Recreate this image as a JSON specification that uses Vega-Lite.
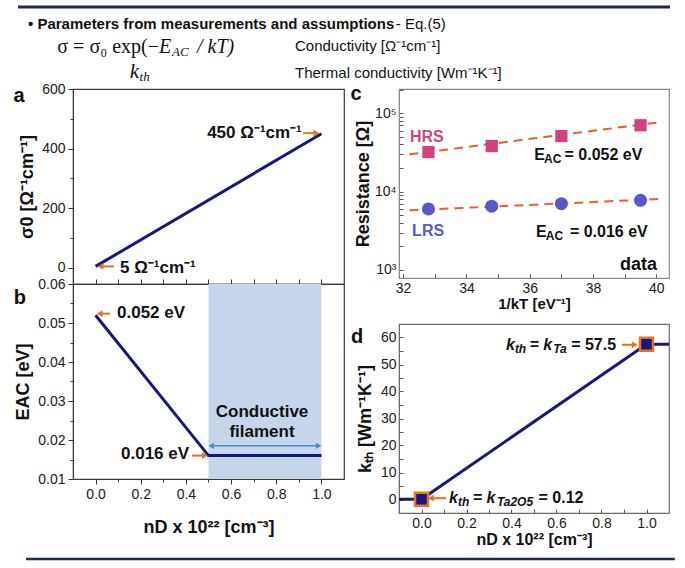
{
  "$schema": "https://vega.github.io/schema/vega-lite/v6.json",
  "background": "white",
  "padding": {"left": 12, "top": 0, "right": 5, "bottom": 0},
  "config": {
    "font": "Liberation Sans",
    "view": {"stroke": "#3a3a3a", "strokeWidth": 1.2},
    "axis": {"grid": false, "labelFontSize": 14, "labelColor": "#1a1a1a", "titleFontSize": 18, "titleFontWeight": "bold", "titleColor": "#111", "domainColor": "#3a3a3a", "tickColor": "#3a3a3a", "labelPadding": 3, "titlePadding": 5},
    "text": {"color": "#111"}
  },
  "spacing": -3,
  "vconcat": [
    {
      "width": 600, "height": 80,
      "view": {"stroke": null},
      "data": {"values": [
        {"role": "line", "x": -9.17, "x2": 99.5, "y": 8.75},
        {"role": "head", "x": -7.5, "y": 30, "text": "• Parameters from measurements and assumptions"},
        {"role": "note", "x": 53.8, "y": 30.6, "text": "- Eq.(5)"},
        {"role": "note", "x": 37, "y": 57.5, "text": "Conductivity [Ω⁻¹cm⁻¹]"},
        {"role": "note", "x": 37, "y": 91.25, "text": "Thermal conductivity [Wm⁻¹K⁻¹]"},
        {"role": "mathR", "x": 14.33, "y": 58.75, "text": "σ = σ₀ exp(−"},
        {"role": "mathI", "x": 14.33, "y": 58.75, "text": "E"},
        {"role": "mathI", "x": 20.67, "y": 58.75, "text": "/ kT)"},
        {"role": "mathIR", "x": 11, "y": 90, "text": "k"},
        {"role": "sub", "x": 16.5, "y": 65, "text": "AC"},
        {"role": "sub", "x": 11.1, "y": 96.25, "text": "th"}
      ]},
      "encoding": {
        "x": {"field": "x", "type": "quantitative", "scale": {"domain": [0, 100], "nice": false, "zero": false}, "axis": null},
        "y": {"field": "y", "type": "quantitative", "scale": {"domain": [0, 100], "nice": false, "zero": false, "reverse": true}, "axis": null}
      },
      "layer": [
        {"transform": [{"filter": "datum.role=='line'"}], "mark": {"type": "rule", "color": "#1e2b4e", "strokeWidth": 3}, "encoding": {"x2": {"field": "x2"}}},
        {"transform": [{"filter": "datum.role=='head'"}], "mark": {"type": "text", "align": "left", "baseline": "middle", "fontSize": 15, "fontWeight": "bold"}, "encoding": {"text": {"field": "text"}}},
        {"transform": [{"filter": "datum.role=='note'"}], "mark": {"type": "text", "align": "left", "baseline": "middle", "fontSize": 15}, "encoding": {"text": {"field": "text"}}},
        {"transform": [{"filter": "datum.role=='mathR'"}], "mark": {"type": "text", "align": "right", "baseline": "middle", "fontSize": 20, "font": "Liberation Serif"}, "encoding": {"text": {"field": "text"}}},
        {"transform": [{"filter": "datum.role=='mathI'"}], "mark": {"type": "text", "align": "left", "baseline": "middle", "fontSize": 20, "font": "Liberation Serif", "fontStyle": "italic"}, "encoding": {"text": {"field": "text"}}},
        {"transform": [{"filter": "datum.role=='mathIR'"}], "mark": {"type": "text", "align": "right", "baseline": "middle", "fontSize": 21, "font": "Liberation Serif", "fontStyle": "italic"}, "encoding": {"text": {"field": "text"}}},
        {"transform": [{"filter": "datum.role=='sub'"}], "mark": {"type": "text", "align": "left", "baseline": "middle", "fontSize": 13, "font": "Liberation Serif", "fontStyle": "italic"}, "encoding": {"text": {"field": "text"}}}
      ]
    },
    {
      "spacing": 4,
      "hconcat": [
        {
          "spacing": 0,
          "bounds": "flush",
          "vconcat": [
            {
              "width": 271, "height": 195,
              "data": {"values": [
                {"role": "line", "x": 0, "y": 5},
                {"role": "line", "x": 1, "y": 450},
                {"role": "arrow", "x": 0.082, "x2": 0.025, "y": 5},
                {"role": "headL", "x": 0.022, "y": 5},
                {"role": "arrow", "x": 0.918, "x2": 0.975, "y": 452},
                {"role": "headR", "x": 0.978, "y": 452},
                {"role": "textL", "x": 0.108, "y": 0, "text": "5 Ω⁻¹cm⁻¹"},
                {"role": "textR", "x": 0.913, "y": 452, "text": "450 Ω⁻¹cm⁻¹"},
                {"role": "letter", "x": -0.339, "y": 576, "text": "a"}
              ]},
              "encoding": {
                "x": {"field": "x", "type": "quantitative", "scale": {"domain": [-0.1, 1.1], "nice": false, "zero": false},
                  "axis": {"values": [0, 0.1, 0.2, 0.3, 0.4, 0.5, 0.6, 0.7, 0.8, 0.9, 1], "labels": false, "title": null, "domain": false, "tickSize": -5}},
                "y": {"field": "y", "type": "quantitative", "scale": {"domain": [-54, 600], "nice": false, "zero": false},
                  "axis": {"values": [0, 100, 200, 300, 400, 500, 600], "labelExpr": "datum.value%200==0 ? datum.label : ''",
                    "tickSize": {"condition": {"test": "datum.value%200!=0", "value": 3}, "value": 5}, "title": "σ0 [Ω⁻¹cm⁻¹]"}}
              },
              "layer": [
                {"transform": [{"filter": "datum.role=='line'"}], "mark": {"type": "line", "color": "#17177e", "strokeWidth": 3}},
                {"transform": [{"filter": "datum.role=='arrow'"}], "mark": {"type": "rule", "color": "#e8731e", "strokeWidth": 2}, "encoding": {"x2": {"field": "x2"}}},
                {"transform": [{"filter": "datum.role=='headL'"}], "mark": {"type": "point", "shape": "triangle-left", "filled": true, "color": "#e8731e", "size": 45, "opacity": 1}},
                {"transform": [{"filter": "datum.role=='headR'"}], "mark": {"type": "point", "shape": "triangle-right", "filled": true, "color": "#e8731e", "size": 45, "opacity": 1}},
                {"transform": [{"filter": "datum.role=='textL'"}], "mark": {"type": "text", "align": "left", "baseline": "middle", "fontSize": 17, "fontWeight": "bold"}, "encoding": {"text": {"field": "text"}}},
                {"transform": [{"filter": "datum.role=='textR'"}], "mark": {"type": "text", "align": "right", "baseline": "middle", "fontSize": 17, "fontWeight": "bold"}, "encoding": {"text": {"field": "text"}}},
                {"transform": [{"filter": "datum.role=='letter'"}], "mark": {"type": "text", "align": "center", "baseline": "middle", "fontSize": 20, "fontWeight": "bold"}, "encoding": {"text": {"field": "text"}}}
              ]
            },
            {
              "width": 271, "height": 195,
              "data": {"values": [
                {"role": "shade", "x": 0.5, "x2": 1.0, "y": 0.01, "y2": 0.06},
                {"role": "line", "x": 0, "y": 0.052},
                {"role": "line", "x": 0.5, "y": 0.016},
                {"role": "line", "x": 1.0, "y": 0.016},
                {"role": "dbl", "x": 0.51, "x2": 0.99, "y": 0.0185},
                {"role": "blueL", "x": 0.512, "y": 0.0185},
                {"role": "blueR", "x": 0.988, "y": 0.0185},
                {"role": "arrow", "x": 0.064, "x2": 0.02, "y": 0.0524},
                {"role": "headL", "x": 0.018, "y": 0.0524},
                {"role": "arrow", "x": 0.427, "x2": 0.48, "y": 0.016},
                {"role": "headR", "x": 0.484, "y": 0.016},
                {"role": "textL", "x": 0.095, "y": 0.0525, "text": "0.052 eV"},
                {"role": "textR", "x": 0.414, "y": 0.0164, "text": "0.016 eV"},
                {"role": "textC", "x": 0.737, "y": 0.0272, "text": "Conductive"},
                {"role": "textC", "x": 0.737, "y": 0.022, "text": "filament"},
                {"role": "letter", "x": -0.335, "y": 0.0564, "text": "b"}
              ]},
              "encoding": {
                "x": {"field": "x", "type": "quantitative", "scale": {"domain": [-0.1, 1.1], "nice": false, "zero": false},
                  "axis": {"values": [0, 0.1, 0.2, 0.3, 0.4, 0.5, 0.6, 0.7, 0.8, 0.9, 1], "labelExpr": "round(datum.value*10)%2==0 ? format(datum.value, '.1f') : ''",
                    "tickSize": {"condition": {"test": "round(datum.value*10)%2==1", "value": 3}, "value": 5}, "title": "nD x 10²² [cm⁻³]", "titlePadding": 17}},
                "y": {"field": "y", "type": "quantitative", "scale": {"domain": [0.01, 0.06], "nice": false, "zero": false},
                  "axis": {"values": [0.01, 0.015, 0.02, 0.025, 0.03, 0.035, 0.04, 0.045, 0.05, 0.055, 0.06], "labelExpr": "round(datum.value*1000)%10==0 ? format(datum.value, '.2f') : ''",
                    "tickSize": {"condition": {"test": "round(datum.value*1000)%10!=0", "value": 3}, "value": 5}, "title": "EAC [eV]"}}
              },
              "layer": [
                {"transform": [{"filter": "datum.role=='shade'"}], "mark": {"type": "rect", "color": "#c6d6ea"}, "encoding": {"x2": {"field": "x2"}, "y2": {"field": "y2"}}},
                {"transform": [{"filter": "datum.role=='line'"}], "mark": {"type": "line", "color": "#17177e", "strokeWidth": 3}},
                {"transform": [{"filter": "datum.role=='dbl'"}], "mark": {"type": "rule", "color": "#4d8bcb", "strokeWidth": 1.5}, "encoding": {"x2": {"field": "x2"}}},
                {"transform": [{"filter": "datum.role=='blueL'"}], "mark": {"type": "point", "shape": "triangle-left", "filled": true, "color": "#4d8bcb", "size": 40, "opacity": 1}},
                {"transform": [{"filter": "datum.role=='blueR'"}], "mark": {"type": "point", "shape": "triangle-right", "filled": true, "color": "#4d8bcb", "size": 40, "opacity": 1}},
                {"transform": [{"filter": "datum.role=='arrow'"}], "mark": {"type": "rule", "color": "#e8731e", "strokeWidth": 2}, "encoding": {"x2": {"field": "x2"}}},
                {"transform": [{"filter": "datum.role=='headL'"}], "mark": {"type": "point", "shape": "triangle-left", "filled": true, "color": "#e8731e", "size": 45, "opacity": 1}},
                {"transform": [{"filter": "datum.role=='headR'"}], "mark": {"type": "point", "shape": "triangle-right", "filled": true, "color": "#e8731e", "size": 45, "opacity": 1}},
                {"transform": [{"filter": "datum.role=='textL'"}], "mark": {"type": "text", "align": "left", "baseline": "middle", "fontSize": 17, "fontWeight": "bold"}, "encoding": {"text": {"field": "text"}}},
                {"transform": [{"filter": "datum.role=='textR'"}], "mark": {"type": "text", "align": "right", "baseline": "middle", "fontSize": 17, "fontWeight": "bold"}, "encoding": {"text": {"field": "text"}}},
                {"transform": [{"filter": "datum.role=='textC'"}], "mark": {"type": "text", "align": "center", "baseline": "middle", "fontSize": 17, "fontWeight": "bold"}, "encoding": {"text": {"field": "text"}}},
                {"transform": [{"filter": "datum.role=='letter'"}], "mark": {"type": "text", "align": "center", "baseline": "middle", "fontSize": 20, "fontWeight": "bold"}, "encoding": {"text": {"field": "text"}}}
              ]
            }
          ]
        },
        {
          "spacing": 46,
          "bounds": "flush",
          "vconcat": [
            {
              "width": 270, "height": 189,
              "view": {"stroke": "#8a8a8a"},
              "data": {"values": [
                {"role": "fit", "state": "HRS", "x": 32.2, "y": 29800},
                {"role": "fit", "state": "HRS", "x": 40.2, "y": 77400},
                {"role": "fit", "state": "LRS", "x": 32.2, "y": 5760},
                {"role": "fit", "state": "LRS", "x": 40.2, "y": 8060},
                {"role": "hrs", "x": 32.8, "y": 31900},
                {"role": "hrs", "x": 34.8, "y": 38000},
                {"role": "hrs", "x": 37.0, "y": 51000},
                {"role": "hrs", "x": 39.5, "y": 70000},
                {"role": "lrs", "x": 32.8, "y": 6000},
                {"role": "lrs", "x": 34.8, "y": 6500},
                {"role": "lrs", "x": 37.0, "y": 7000},
                {"role": "lrs", "x": 39.5, "y": 7740},
                {"role": "hrsLabel", "x": 32.75, "y": 49600, "text": "HRS"},
                {"role": "lrsLabel", "x": 32.79, "y": 3135, "text": "LRS"},
                {"role": "main", "x": 36.14, "y": 29200, "text": "E"},
                {"role": "sub", "x": 36.45, "y": 25980, "text": "AC"},
                {"role": "main", "x": 37.1, "y": 29200, "text": "= 0.052 eV"},
                {"role": "main", "x": 36.2, "y": 3044, "text": "E"},
                {"role": "sub", "x": 36.51, "y": 2704, "text": "AC"},
                {"role": "main", "x": 37.27, "y": 3044, "text": "= 0.016 eV"},
                {"role": "dataLabel", "x": 40.02, "y": 1155, "text": "data"},
                {"role": "letter", "x": 30.51, "y": 175300, "text": "c"}
              ]},
              "encoding": {
                "x": {"field": "x", "type": "quantitative", "scale": {"domain": [31.87, 40.4], "nice": false, "zero": false},
                  "axis": {"values": [32, 33, 34, 35, 36, 37, 38, 39, 40], "labelExpr": "datum.value%2==0 ? datum.label : ''",
                    "tickSize": -4, "labelPadding": 7, "title": "1/kT [eV⁻¹]", "titleFontSize": 15, "titlePadding": 1, "domainColor": "#8a8a8a", "tickColor": "#555"}},
                "y": {"field": "y", "type": "quantitative", "scale": {"type": "log", "domain": [790, 203000], "nice": false},
                  "axis": {"values": [1000, 2000, 3000, 4000, 5000, 6000, 7000, 8000, 9000, 10000, 20000, 30000, 40000, 50000, 60000, 70000, 80000, 90000, 100000, 200000],
                    "labelExpr": "datum.value==1000 ? '10³' : datum.value==10000 ? '10⁴' : datum.value==100000 ? '10⁵' : ''",
                    "tickSize": -4, "labelPadding": 7, "title": "Resistance [Ω]", "titlePadding": 2, "domainColor": "#8a8a8a", "tickColor": "#555"}}
              },
              "layer": [
                {"transform": [{"filter": "datum.role=='fit'"}], "mark": {"type": "line", "color": "#ef5a32", "strokeWidth": 2, "strokeDash": [9, 6]}, "encoding": {"detail": {"field": "state"}}},
                {"transform": [{"filter": "datum.role=='hrs'"}], "mark": {"type": "point", "shape": "square", "filled": true, "color": "#d2427f", "size": 150, "opacity": 1}},
                {"transform": [{"filter": "datum.role=='lrs'"}], "mark": {"type": "circle", "color": "#5858cc", "size": 170, "opacity": 1}},
                {"transform": [{"filter": "datum.role=='hrsLabel'"}], "mark": {"type": "text", "align": "center", "baseline": "middle", "fontSize": 16, "fontWeight": "bold", "color": "#d2427f"}, "encoding": {"text": {"field": "text"}}},
                {"transform": [{"filter": "datum.role=='lrsLabel'"}], "mark": {"type": "text", "align": "center", "baseline": "middle", "fontSize": 16, "fontWeight": "bold", "color": "#5858cc"}, "encoding": {"text": {"field": "text"}}},
                {"transform": [{"filter": "datum.role=='main'"}], "mark": {"type": "text", "align": "left", "baseline": "middle", "fontSize": 16, "fontWeight": "bold"}, "encoding": {"text": {"field": "text"}}},
                {"transform": [{"filter": "datum.role=='sub'"}], "mark": {"type": "text", "align": "left", "baseline": "middle", "fontSize": 12, "fontWeight": "bold"}, "encoding": {"text": {"field": "text"}}},
                {"transform": [{"filter": "datum.role=='dataLabel'"}], "mark": {"type": "text", "align": "right", "baseline": "middle", "fontSize": 18, "fontWeight": "bold"}, "encoding": {"text": {"field": "text"}}},
                {"transform": [{"filter": "datum.role=='letter'"}], "mark": {"type": "text", "align": "center", "baseline": "middle", "fontSize": 20, "fontWeight": "bold"}, "encoding": {"text": {"field": "text"}}}
              ]
            },
            {
              "width": 270, "height": 189,
              "view": {"stroke": "#6a6a6a"},
              "data": {"values": [
                {"role": "line", "x": -0.1, "y": 0.12},
                {"role": "line", "x": 0, "y": 0.12},
                {"role": "line", "x": 1, "y": 57.5},
                {"role": "line", "x": 1.1, "y": 57.5},
                {"role": "sq", "x": 0, "y": 0.12},
                {"role": "sq", "x": 1, "y": 57.5},
                {"role": "arrow", "x": 0.109, "x2": 0.045, "y": 0.5},
                {"role": "headL", "x": 0.042, "y": 0.5},
                {"role": "arrow", "x": 0.89, "x2": 0.945, "y": 57.3},
                {"role": "headR", "x": 0.948, "y": 57.3},
                {"role": "kmain", "x": 0.3756, "y": 57.2, "text": "k"},
                {"role": "ksub", "x": 0.415, "y": 55.7, "text": "th"},
                {"role": "kmain", "x": 0.48, "y": 57.2, "text": "= k"},
                {"role": "ksub", "x": 0.585, "y": 55.7, "text": "Ta"},
                {"role": "kplain", "x": 0.665, "y": 57.2, "text": "= 57.5"},
                {"role": "kmain", "x": 0.1222, "y": 0.56, "text": "k"},
                {"role": "ksub", "x": 0.162, "y": -0.93, "text": "th"},
                {"role": "kmain", "x": 0.228, "y": 0.56, "text": "= k"},
                {"role": "ksub", "x": 0.335, "y": -0.93, "text": "Ta2O5"},
                {"role": "kplain", "x": 0.52, "y": 0.56, "text": "= 0.12"},
                {"role": "letter", "x": -0.2867, "y": 60.2, "text": "d"}
              ]},
              "encoding": {
                "x": {"field": "x", "type": "quantitative", "scale": {"domain": [-0.1, 1.1], "nice": false, "zero": false},
                  "axis": {"values": [0, 0.1, 0.2, 0.3, 0.4, 0.5, 0.6, 0.7, 0.8, 0.9, 1], "labelExpr": "round(datum.value*10)%2==0 ? format(datum.value, '.1f') : ''",
                    "tickSize": -4, "labelPadding": 7, "title": "nD x 10²² [cm⁻³]", "titleFontSize": 16, "titlePadding": 1, "domainColor": "#6a6a6a", "tickColor": "#555"}},
                "y": {"field": "y", "type": "quantitative", "scale": {"domain": [-5, 65], "nice": false, "zero": false},
                  "axis": {"values": [0, 5, 10, 15, 20, 25, 30, 35, 40, 45, 50, 55, 60], "labelExpr": "datum.value%10==0 ? datum.label : ''",
                    "tickSize": -4, "labelPadding": 7, "title": "kₜₕ [Wm⁻¹K⁻¹]", "titlePadding": 6, "domainColor": "#6a6a6a", "tickColor": "#555"}}
              },
              "layer": [
                {"transform": [{"filter": "datum.role=='line'"}], "mark": {"type": "line", "color": "#17177e", "strokeWidth": 3}},
                {"transform": [{"filter": "datum.role=='sq'"}], "mark": {"type": "point", "shape": "square", "filled": true, "color": "#17177e", "stroke": "#e8731e", "strokeWidth": 2.5, "size": 170, "opacity": 1}},
                {"transform": [{"filter": "datum.role=='arrow'"}], "mark": {"type": "rule", "color": "#e8731e", "strokeWidth": 2}, "encoding": {"x2": {"field": "x2"}}},
                {"transform": [{"filter": "datum.role=='headL'"}], "mark": {"type": "point", "shape": "triangle-left", "filled": true, "color": "#e8731e", "size": 45, "opacity": 1}},
                {"transform": [{"filter": "datum.role=='headR'"}], "mark": {"type": "point", "shape": "triangle-right", "filled": true, "color": "#e8731e", "size": 45, "opacity": 1}},
                {"transform": [{"filter": "datum.role=='kmain'"}], "mark": {"type": "text", "align": "left", "baseline": "middle", "fontSize": 16, "fontWeight": "bold", "fontStyle": "italic"}, "encoding": {"text": {"field": "text"}}},
                {"transform": [{"filter": "datum.role=='ksub'"}], "mark": {"type": "text", "align": "left", "baseline": "middle", "fontSize": 12, "fontWeight": "bold", "fontStyle": "italic"}, "encoding": {"text": {"field": "text"}}},
                {"transform": [{"filter": "datum.role=='kplain'"}], "mark": {"type": "text", "align": "left", "baseline": "middle", "fontSize": 16, "fontWeight": "bold"}, "encoding": {"text": {"field": "text"}}},
                {"transform": [{"filter": "datum.role=='letter'"}], "mark": {"type": "text", "align": "center", "baseline": "middle", "fontSize": 20, "fontWeight": "bold"}, "encoding": {"text": {"field": "text"}}}
              ]
            }
          ]
        }
      ]
    },
    {
      "width": 600, "height": 20,
      "view": {"stroke": null},
      "data": {"values": [{"x": -7.83, "x2": 100.3, "y": 45}]},
      "mark": {"type": "rule", "color": "#1e2b4e", "strokeWidth": 2.5},
      "encoding": {
        "x": {"field": "x", "type": "quantitative", "scale": {"domain": [0, 100], "nice": false, "zero": false}, "axis": null},
        "x2": {"field": "x2"},
        "y": {"field": "y", "type": "quantitative", "scale": {"domain": [0, 100], "nice": false, "zero": false}, "axis": null}
      }
    }
  ]
}
